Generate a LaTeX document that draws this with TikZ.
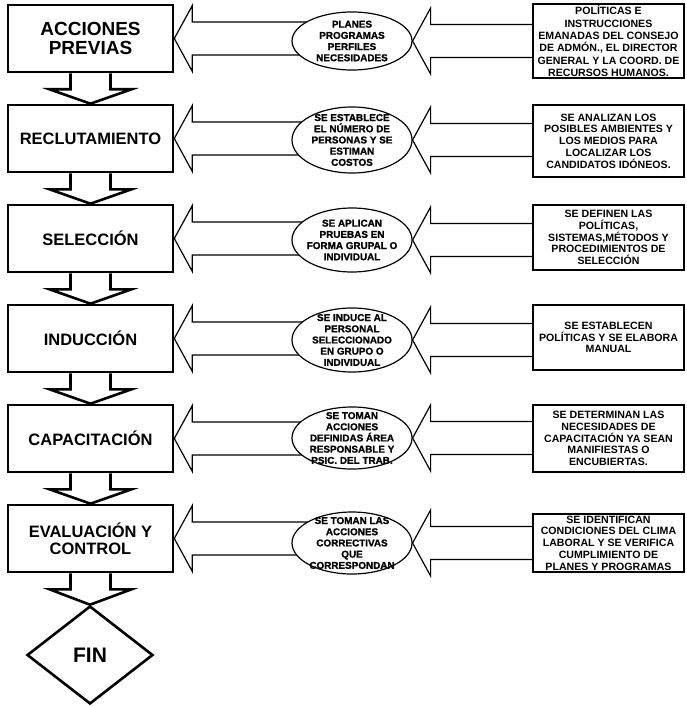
\documentclass[tikz,border=0pt]{standalone}
\usepackage{fontspec}
\setmainfont{Liberation Sans}
\newfontfamily\heavyfont{Liberation Sans Bold}[FakeBold=1.2]
\usepackage{tikz}
\usetikzlibrary{shapes.geometric,calc,backgrounds}

\begin{document}
\begin{tikzpicture}[x=1pt,y=-1pt,
    lbox/.style={draw, line width=2.6pt, fill=white, minimum width=165pt,
                 minimum height=67pt, align=center, inner sep=2pt,
                 font=\bfseries\fontsize{16.5}{17}\selectfont},
    ebox/.style={draw, ellipse, line width=1.2pt, fill=white, inner sep=0pt,
                 minimum width=120pt, minimum height=62pt},
    etext/.style={align=center, inner sep=0pt,
                 font=\heavyfont\fontsize{9.9}{11.2}\selectfont},
    rbox/.style={draw, line width=1.2pt, fill=white, minimum width=151pt,
                 align=center, inner xsep=0pt, inner ysep=1pt,
                 font=\bfseries\fontsize{10.6}{11.8}\selectfont},
    vfat/.style={draw, line width=2.6pt, fill=white, line join=miter},
    hfat/.style={draw, line width=1.2pt, fill=white},
    ]
    \useasboundingbox (0,0) rectangle (686,706);

    % Process column -----------------------------------------------------
    \node[lbox, font=\bfseries\fontsize{19}{19}\selectfont] (previas) at (90.5,38.5)
        {ACCIONES\\PREVIAS};
    \node[lbox] (reclu) at (90.5,138.5) {RECLUTAMIENTO};
    \node[lbox] (selec) at (90.5,238.5) {SELECCIÓN};
    \node[lbox] (induc) at (90.5,338.5) {INDUCCIÓN};
    \node[lbox] (capac) at (90.5,438.5) {CAPACITACIÓN};
    \node[lbox] (evalu) at (90.5,538.5) {EVALUACIÓN Y\\CONTROL};
    \node[draw, diamond, line width=2.6pt, minimum width=126pt, minimum height=98pt,
          inner sep=0pt, font=\bfseries\fontsize{21}{21}\selectfont] (fin) at (90,655) {FIN};

    % Middle column ------------------------------------------------------
    \node[ebox, minimum height=58pt, label={[etext]center:{PLANES\\PROGRAMAS\\PERFILES\\NECESIDADES}}]
        (e1) at (352,41) {};
    \node[ebox, minimum height=66pt, label={[etext]center:{SE ESTABLECE\\EL NÚMERO DE\\PERSONAS Y SE\\ESTIMAN\\COSTOS}}]
        (e2) at (352,140) {};
    \node[ebox, minimum height=64pt, label={[etext]center:{SE APLICAN\\PRUEBAS EN\\FORMA GRUPAL O\\INDIVIDUAL}}]
        (e3) at (352,240) {};
    \node[ebox, minimum height=64pt, label={[etext]center:{SE INDUCE AL\\PERSONAL\\SELECCIONADO\\EN GRUPO O\\INDIVIDUAL}}]
        (e4) at (352,340) {};
    \node[ebox, minimum height=62pt, label={[etext]center:{SE TOMAN\\ACCIONES\\DEFINIDAS ÁREA\\RESPONSABLE Y\\PSIC. DEL TRAB.}}]
        (e5) at (352,438) {};
    \node[ebox, minimum height=62pt, label={[etext]center:{SE TOMAN LAS\\ACCIONES\\CORRECTIVAS\\QUE\\CORRESPONDAN}}]
        (e6) at (352,543) {};

    % Right column -------------------------------------------------------
    \node[rbox, minimum height=74pt, font=\bfseries\fontsize{10.6}{12.4}\selectfont] (r1) at (608.5,41)
        {POLÍTICAS E\\INSTRUCCIONES\\EMANADAS DEL CONSEJO\\DE ADMÓN., EL DIRECTOR\\GENERAL Y LA COORD. DE\\RECURSOS HUMANOS.};
    \node[rbox, minimum height=72pt] (r2) at (608.5,141)
        {SE ANALIZAN LOS\\POSIBLES AMBIENTES Y\\LOS MEDIOS PARA\\LOCALIZAR LOS\\CANDIDATOS IDÓNEOS.};
    \node[rbox, minimum height=65pt] (r3) at (608.5,237.5)
        {SE DEFINEN LAS\\POLÍTICAS,\\SISTEMAS,MÉTODOS Y\\PROCEDIMIENTOS DE\\SELECCIÓN};
    \node[rbox, minimum height=65pt] (r4) at (608.5,337.5)
        {SE ESTABLECEN\\POLÍTICAS Y SE ELABORA\\MANUAL};
    \node[rbox, minimum height=67pt] (r5) at (608.5,438.5)
        {SE DETERMINAN LAS\\NECESIDADES DE\\CAPACITACIÓN YA SEAN\\MANIFIESTAS O\\ENCUBIERTAS.};
    \node[rbox, minimum height=58pt] (r6) at (608.5,543)
        {SE IDENTIFICAN\\CONDICIONES DEL CLIMA\\LABORAL Y SE VERIFICA\\CUMPLIMIENTO DE\\PLANES Y PROGRAMAS};

    % Fat arrows ---------------------------------------------------------
    \begin{scope}[on background layer]
    \foreach \a/\b in {previas/reclu, reclu/selec, selec/induc, induc/capac, capac/evalu, evalu/fin}
        \draw[vfat] ($(\a.south)+(-20,0)$) -- ($(\a.south)+(-20,16)$) -- ($(\a.south)+(-41,16)$)
            -- (\b.north) -- ($(\a.south)+(41,16)$) -- ($(\a.south)+(20,16)$) -- ($(\a.south)+(20,0)$);
    \foreach \s/\t in {e1/previas, r1/e1, e2/reclu, r2/e2, e3/selec, r3/e3,
                       e4/induc, r4/e4, e5/capac, r5/e5, e6/evalu, r6/e6}
        \draw[hfat] (\t.east) -- ($(\t.east)+(18,-33)$) -- ($(\t.east)+(18,-16.5)$)
            -- ($(\t.east -| \s.center)+(0,-16.5)$) -- ($(\t.east -| \s.center)+(0,16.5)$)
            -- ($(\t.east)+(18,16.5)$) -- ($(\t.east)+(18,33)$) -- cycle;
    \end{scope}
\end{tikzpicture}
\end{document}
